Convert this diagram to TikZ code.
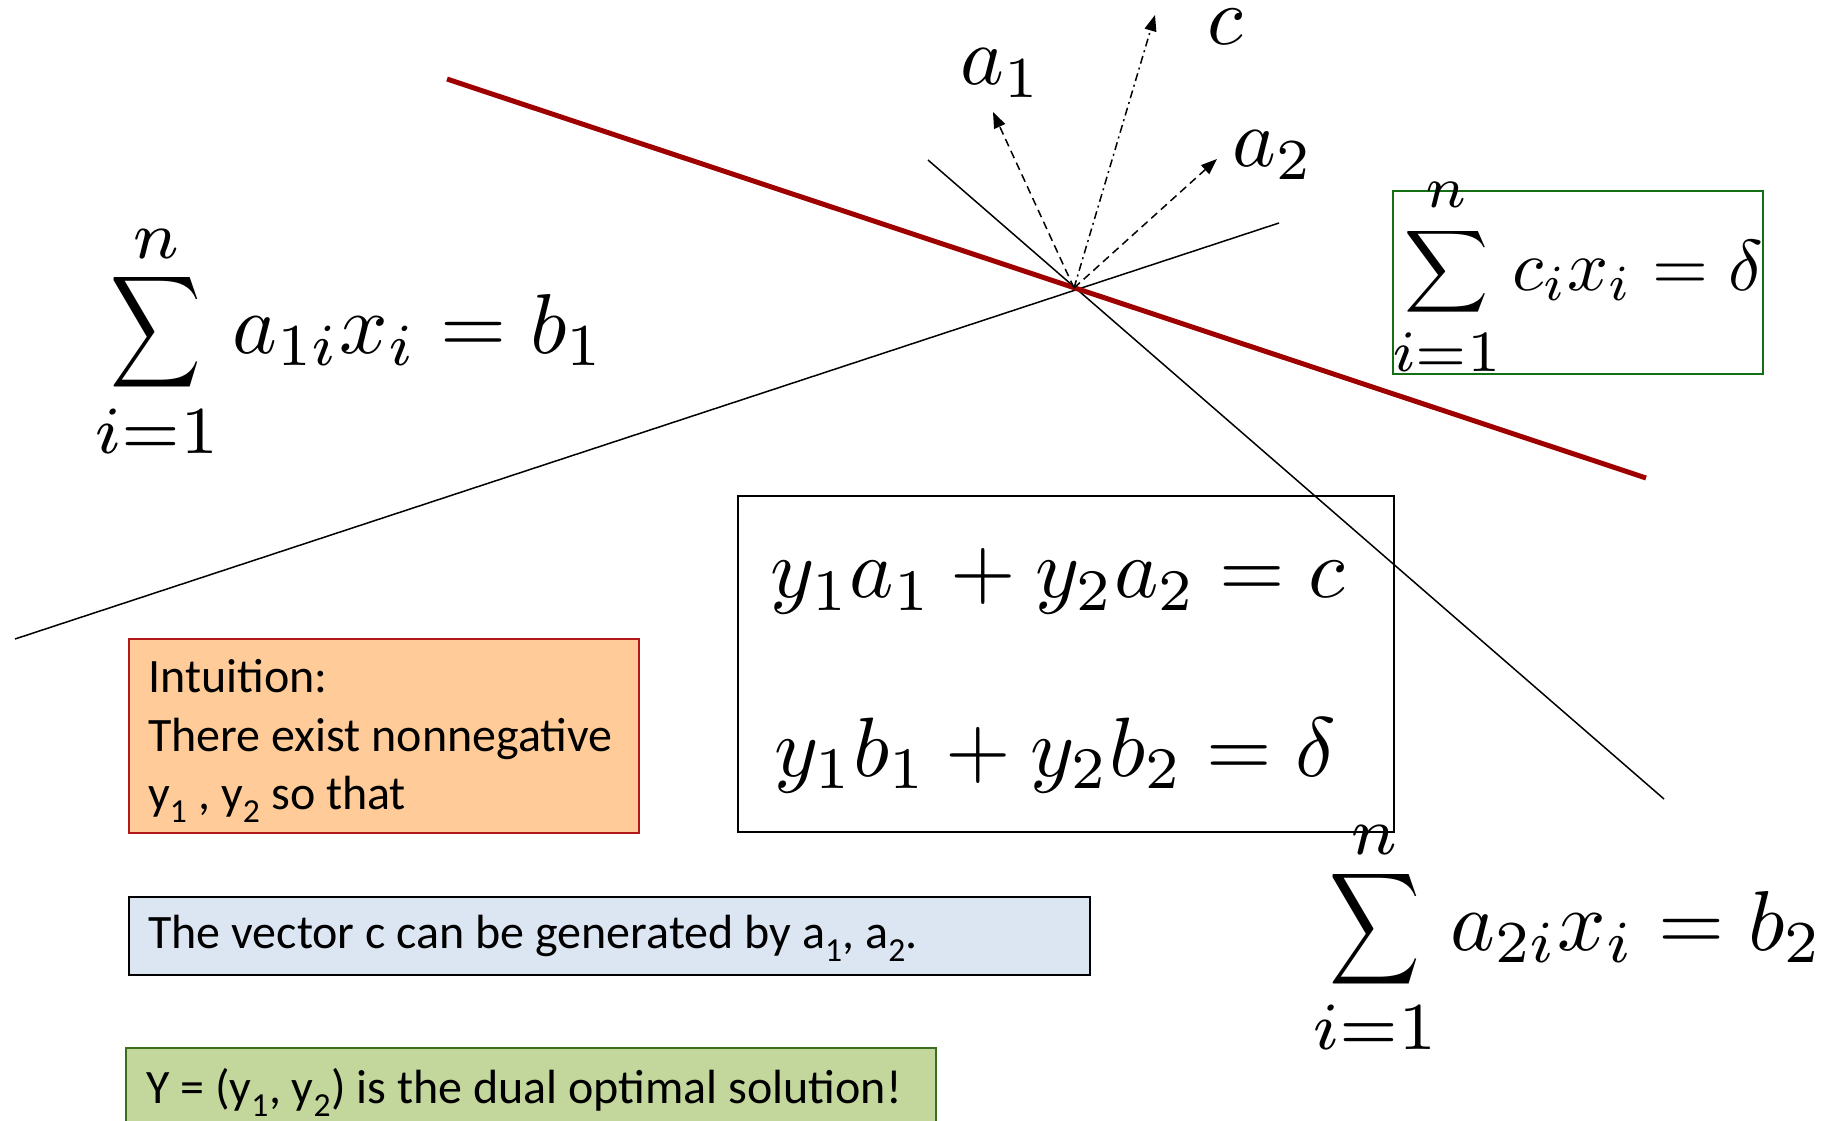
\documentclass[tikz,border=0pt]{standalone}
\usepackage{exscale}
\usepackage[no-math]{fontspec}
\newfontfamily\calibri{Carlito}
\usetikzlibrary{arrows.meta}
\definecolor{redline}{RGB}{158,0,0}
\definecolor{orfill}{RGB}{255,204,153}
\definecolor{ordraw}{RGB}{180,25,25}
\definecolor{blfill}{RGB}{220,230,242}
\definecolor{grfill}{RGB}{195,214,155}
\definecolor{grdraw}{RGB}{60,110,30}
\definecolor{gbox}{RGB}{20,110,20}
\newcommand\mymath[2]{\scalebox{#1}{\fontsize{10}{12}\selectfont$\displaystyle #2$}}
% #1 lower, #2 upper, #3 xscale, #4 yscale, #5 limit scale, #6 raise of lower, #7 drop of upper
\newcommand\mysum[7]{\mathop{\vcenter{\hbox{\scalebox{#3}[#4]{$\displaystyle\sum$}}}}\limits_{\raisebox{#6}[0pt][0pt]{\scalebox{#5}{$\scriptstyle #1$}}}^{\raisebox{-#7}[0pt][0pt]{\scalebox{#5}{$\scriptstyle #2$}}}}
\begin{document}
\begin{tikzpicture}[x=1pt,y=-1pt,
  thinline/.style={line width=1.5pt,black},
  vecarrow/.style={line width=1.5pt,-{Triangle[length=16pt,width=12pt]}},
  dashvec/.style={vecarrow,dash pattern=on 8pt off 5pt},
  dotvec/.style={vecarrow,dash pattern=on 8pt off 4pt on 2pt off 4pt},
  txt/.style={inner sep=0pt,anchor=base west,font=\calibri\fontsize{48}{58}\selectfont},
  mathnode/.style={inner sep=0pt,anchor=center},
  formula/.style={inner sep=0pt,anchor=base west},
  panel/.style={line width=2pt,anchor=north west,inner sep=0pt}]
\useasboundingbox (0,0) rectangle (1831,1121);
% lines
\coordinate (P) at (1074,288);
\coordinate (L1a) at (15,639);
\coordinate (L1b) at (1279,223);
\coordinate (L2a) at (928,160);
\coordinate (L2b) at (1664,799);
\coordinate (Ra) at (447,79);
\coordinate (Rb) at (1646,478);
\draw[thinline] (L1a) -- (L1b);
\draw[thinline] (L2a) -- (L2b);
\draw[line width=5pt,redline] (Ra) -- (Rb);
% vectors
\coordinate (A1) at (993,112);
\coordinate (C) at (1155,15);
\coordinate (A2) at (1217,159);
\draw[dashvec] (P) -- (A1);
\draw[dotvec] (P) -- (C);
\draw[dashvec] (P) -- (A2);
\node[mathnode] (la1) at (1001,73) {\mymath{8.3}{a_1}};
\node[mathnode] (lc) at (1225,27) {\mymath{8.2}{c}};
\node[mathnode] (la2) at (1273,155) {\mymath{8.3}{a_2}};
% formulas
\node[formula] (f1) at (94,353) {\mymath{8.5}{\mysum{i=1}{n}{0.74}{0.92}{1.13}{-1.0pt}{0.7pt} a_{1i}x_i=b_1}};
\node[formula] (f2) at (1312,950) {\mymath{8.5}{\mysum{i=1}{n}{0.74}{0.92}{1.13}{-0.9pt}{0.6pt} a_{2i}x_i=b_2}};
\node[panel,draw=gbox,minimum width=370pt,minimum height=183pt] (gb) at (1392,190) {};
\node[formula] (f3) at (1392,290) {\mymath{7.2}{\mysum{i=1}{n}{0.81}{0.80}{1.16}{-1.35pt}{-0.6pt} c_ix_i=\delta}};
% equation box
\node[panel,draw=black,minimum width=656pt,minimum height=336pt] (eb) at (737,495) {};
\node[mathnode] (e1) at (1058,581) {\mymath{8.42}{y_1a_1+y_2a_2=c}};
\node[mathnode] (e2) at (1055,755) {\mymath{8.42}{y_1b_1+y_2b_2=\delta}};
% text boxes
\node[panel,draw=ordraw,fill=orfill,minimum width=510pt,minimum height=194pt] (ob) at (128,638) {};
\node[txt] (t1) at (148,692) {Intuition:};
\node[txt] (t2) at (148,751) {There exist nonnegative};
\node[txt] (t3) at (148,809) {y\textsubscript{1} , y\textsubscript{2} so that};
\node[panel,draw=black,fill=blfill,minimum width=961pt,minimum height=78pt] (bb) at (128,896) {};
\node[txt] (t4) at (148,948) {The vector c can be generated by a\textsubscript{1}, a\textsubscript{2}.};
\node[panel,draw=grdraw,fill=grfill,minimum width=810pt,minimum height=90pt] (grb) at (125,1047) {};
\node[txt] (t5) at (146,1103) {Y = (y\textsubscript{1}, y\textsubscript{2}) is the dual optimal solution!};
\end{tikzpicture}
\end{document}
